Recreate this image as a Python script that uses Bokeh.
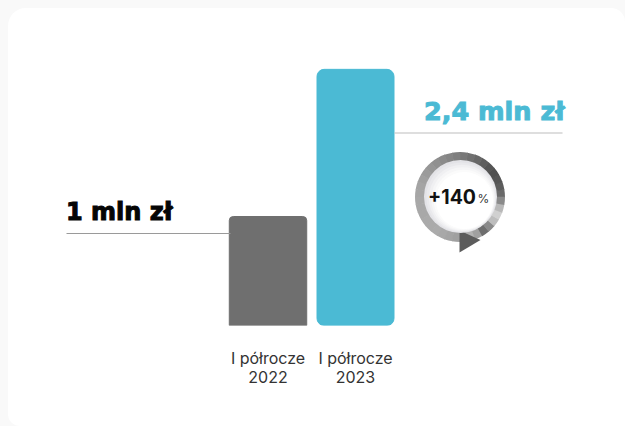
from bokeh.core.properties import value
from bokeh.embed import file_html
from bokeh.models import FixedTicker, Range1d
from bokeh.plotting import figure
from bokeh.resources import INLINE

periods = ["I półrocze\n2022", "I półrocze\n2023"]
positions = [1, 2]
revenue = [1.0, 2.35]
value_labels = ["1 mln zł", "2,4 mln zł"]
GREY = "#6f6f6f"
BLUE = "#4bbad4"
# ring shades, counter-clockwise from 3 o'clock
ring_colors = ["#6a6a6a", "#5c5c5c", "#555555", "#505050", "#555555", "#5e5e5e",
               "#686868", "#707070", "#787878", "#7f7f7f", "#858585", "#8b8b8b",
               "#909090", "#969696", "#9b9b9b", "#a0a0a0", "#a4a4a4", "#a6a6a6",
               "#a8a8a8", "#a8a8a8", "#a8a8a8", "#aaaaaa", "#aaaaaa", "#ababab",
               "#a8a8a8", "#a4a4a4", "#a0a0a0", "#a6a6a6", "#b2b2b2", "#a0a0a0",
               "#6e6e6e", "#8a8a8a", "#bdbdbd", "#d0d0d0", "#b8b8b8", "#8a8a8a"]
inner_colors = ["#e3e3e7", "#e9e9ec", "#f0f0f2", "#f6f6f7", "#fbfbfb", "#ffffff"]

W, H = 609, 410
p = figure(width=W, height=H, output_backend="svg", toolbar_location=None,
           x_range=Range1d(1 - 259.5 / 87.5, 1 - 259.5 / 87.5 + W / 87.5),
           y_range=Range1d(0, 317 / 109),
           min_border_left=0, min_border_right=0, min_border_top=0, min_border_bottom=H - 317,
           outline_line_color=None, background_fill_color=None, border_fill_color=None)
p.extra_x_ranges["px"] = Range1d(8, 8 + W)
p.extra_y_ranges["px"] = Range1d(101, 418)
p.grid.visible = False
p.yaxis.visible = False

ax = p.xaxis[0]
ax.ticker = FixedTicker(ticks=positions)
ax.major_label_overrides = dict(zip(positions, periods))
ax.axis_line_color = None
ax.major_tick_line_color = None
ax.minor_tick_line_color = None
ax.major_label_standoff = 16
ax.major_label_text_font = "Inter"
ax.major_label_text_font_size = "16px"
ax.major_label_text_color = "#333333"
ax.major_label_text_line_height = 0.95
ax.major_label_orientation = "horizontal"

p.vbar(x=positions[:1], top=revenue[:1], width=0.885, color=GREY, border_radius=(4, 4, 0, 0))
p.vbar(x=positions[1:], top=revenue[1:], width=0.88, color=BLUE, border_radius=7)

px = dict(x_range_name="px", y_range_name="px")
Y = lambda s: 426 - s

p.line([66, 230], [Y(233)] * 2, line_color="#9a9a9a", line_width=1, **px)
p.line([394, 562], [Y(132.5)] * 2, line_color="#bdbdbd", line_width=1.2, **px)

heading = dict(text_font=value("DejaVu Sans"), text_font_style="bold", text_baseline="alphabetic", **px)
p.text([65.5], [Y(211.5)], text=value_labels[:1], text_color="#050505",
       text_outline_color="#050505", text_font_size="24px", **heading)
p.text([423.5], [Y(110)], text=value_labels[1:], text_color=BLUE,
       text_outline_color=BLUE, text_font_size="25.5px", **heading)

cx, cy = 459.5, Y(196.5)
step = 360 / len(ring_colors)
for i, c in enumerate(ring_colors):
    p.annular_wedge([cx], [cy], inner_radius=35, outer_radius=45,
                    start_angle=i * step - 0.4, end_angle=(i + 1) * step + 0.4,
                    start_angle_units="deg", end_angle_units="deg",
                    fill_color=c, line_color=None, **px)
p.patch([459, 459, 480], [Y(230), Y(252), Y(239.5)], fill_color="#5c5c5c", line_color=None, **px)
for i, c in enumerate(inner_colors):
    p.circle([460 + i * 0.8], [Y(196 + i * 0.8)], radius=36.5 - i * 1.6,
             fill_color=c, line_color=None, **px)

p.text([427.5], [Y(196)], text=["+140"], text_font=value("Inter"), text_font_style="bold",
       text_font_size="19.5px", text_color="#111111", text_baseline="alphabetic", **px)
p.text([477], [Y(198)], text=["%"], text_font=value("Inter"), text_font_size="12px",
       text_color="#333333", text_baseline="alphabetic", **px)

html = file_html(p, INLINE)
css = ("<style>html{background:#f9f9f9;overflow:hidden;height:100%}"
       "body{background:#ffffff;margin:8px 0 0 8px;height:calc(100vh - 8px);"
       "border-radius:18px 14px 0 12px}</style>")
html = html.replace("</head>", css + "</head>", 1)
open("out.html", "w").write(html)
